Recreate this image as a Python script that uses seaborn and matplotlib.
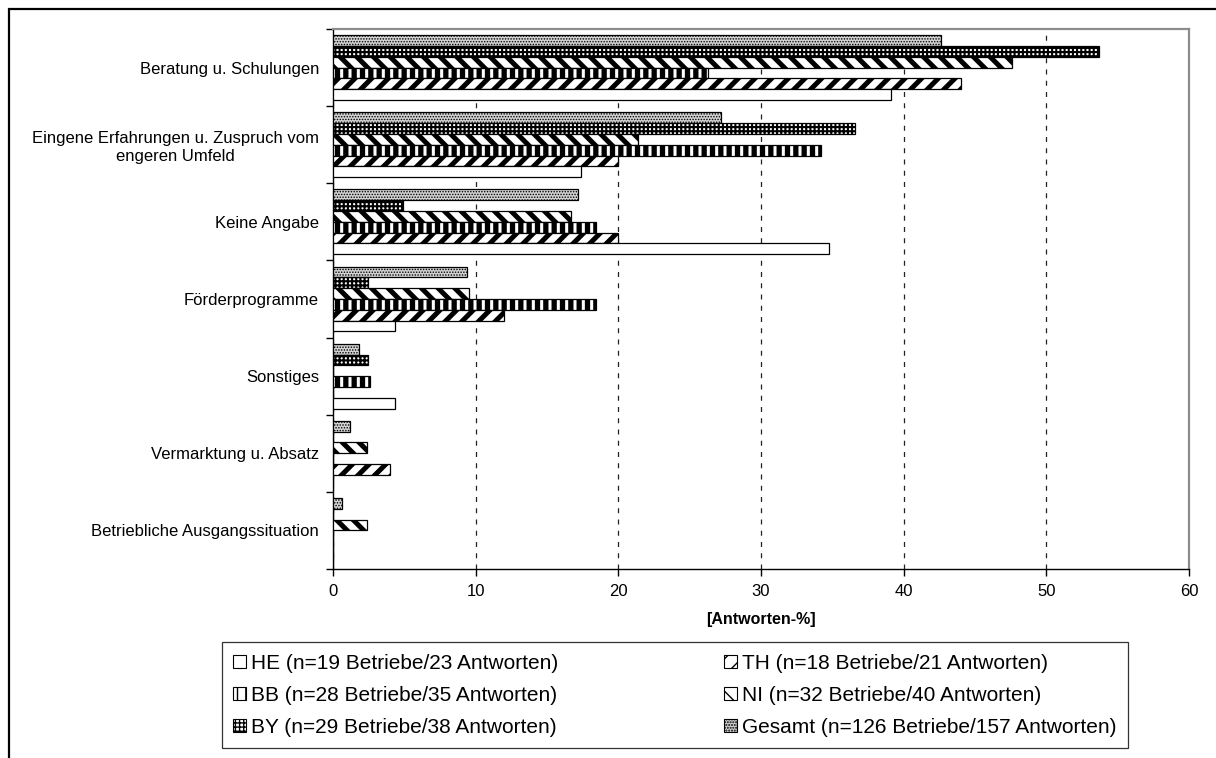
import numpy as np
import pandas as pd
import matplotlib
matplotlib.use("Agg")
import matplotlib.pyplot as plt
import seaborn as sns
from matplotlib.patches import Patch, Rectangle

# ---------------- data ----------------
categories = [
    "Beratung u. Schulungen",
    "Eingene Erfahrungen u. Zuspruch vom\nengeren Umfeld",
    "Keine Angabe",
    "Förderprogramme",
    "Sonstiges",
    "Vermarktung u. Absatz",
    "Betriebliche Ausgangssituation",
]
series_keys = ["HE", "TH", "BB", "NI", "BY", "Gesamt"]
series_labels = [
    "HE (n=19 Betriebe/23 Antworten)",
    "TH (n=18 Betriebe/21 Antworten)",
    "BB (n=28 Betriebe/35 Antworten)",
    "NI (n=32 Betriebe/40 Antworten)",
    "BY (n=29 Betriebe/38 Antworten)",
    "Gesamt (n=126 Betriebe/157 Antworten)",
]
he = [39.1, 17.4, 34.8, 4.35, 4.35, 0.0, 0.0]
th = [44.0, 20.0, 20.0, 12.0, 0.0, 4.0, 0.0]
bb = [26.3, 34.2, 18.4, 18.4, 2.6, 0.0, 0.0]
ni = [47.6, 21.4, 16.7, 9.5, 0.0, 2.4, 2.4]
by = [53.7, 36.6, 4.9, 2.45, 2.45, 0.0, 0.0]
gesamt = [42.6, 27.2, 17.2, 9.4, 1.8, 1.2, 0.6]
x_ticks = [0, 10, 20, 30, 40, 50, 60]
x_label = "[Antworten-%]"

values = {"HE": he, "TH": th, "BB": bb, "NI": ni, "BY": by, "Gesamt": gesamt}

# ---------------- style ----------------
sns.set_theme(style="white")
plt.rcParams["font.family"] = ["Liberation Sans", "DejaVu Sans"]
plt.rcParams["hatch.linewidth"] = 1.0
for k in ["text.color", "axes.labelcolor", "xtick.color", "ytick.color"]:
    plt.rcParams[k] = "black"

styles = {
    "HE": dict(fc="white", hatch=None, hlw=1.0),
    "TH": dict(fc="white", hatch="//", hlw=3.6),
    "BB": dict(fc="white", hatch="||", hlw=3.8),
    "NI": dict(fc="white", hatch="\\\\", hlw=3.6),
    "BY": dict(fc="white", hatch="++++", hlw=1.5),
    "Gesamt": dict(fc="#d2d2d2", hatch="......", hlw=0.7),
}

rows = []
for k in series_keys:
    for c, v in zip(categories, values[k]):
        rows.append({"category": c, "series": k, "value": v})
df = pd.DataFrame(rows)

W, H = 1216, 758
fig = plt.figure(figsize=(W / 100, H / 100), dpi=100)
ax = fig.add_axes([333 / W, 1 - 569 / H, (1189 - 333) / W, (569 - 29) / H])

hue_order = ["Gesamt", "BY", "NI", "BB", "TH", "HE"]  # top to bottom inside each group
palette = {k: styles[k]["fc"] for k in series_keys}
sns.barplot(data=df, x="value", y="category", hue="series", order=categories,
            hue_order=hue_order, orient="h", width=0.84, palette=palette,
            saturation=1, legend=False, errorbar=None, ax=ax,
            linewidth=0.9, edgecolor="black", zorder=3)

for key, cont in zip(hue_order, ax.containers):
    st = styles[key]
    for p in cont:
        p.set_facecolor(st["fc"])
        p.set_edgecolor("black")
        if st["hatch"]:
            p.set_hatch(st["hatch"])
        if hasattr(p, "set_hatch_linewidth"):
            p.set_hatch_linewidth(st["hlw"])

# axes
ax.set_xlim(0, 60)
ax.set_ylim(len(categories) - 0.5, -0.5)
ax.set_xticks(x_ticks)
ax.set_xticklabels([str(t) for t in x_ticks], fontsize=12)
ax.set_yticks(np.arange(-0.5, len(categories), 1.0))
ax.set_yticklabels([])
ax.set_yticks(np.arange(len(categories)), minor=True)
ax.set_yticklabels(categories, minor=True, fontsize=12, multialignment="center")
ax.tick_params(axis="y", which="major", direction="out", length=5, width=1, color="black", left=True)
ax.tick_params(axis="y", which="minor", length=0, pad=10)
ax.tick_params(axis="x", which="major", direction="out", length=5, width=1, color="black", bottom=True, pad=6)
ax.set_xlabel(x_label, fontsize=11.5, fontweight="bold", labelpad=9)
ax.set_ylabel("")

ax.xaxis.grid(True, linestyle=(0, (4, 5)), color="#222222", linewidth=0.9, zorder=0)
ax.yaxis.grid(False)
ax.set_axisbelow(True)
for s in ["left", "bottom"]:
    ax.spines[s].set_color("black")
    ax.spines[s].set_linewidth(1.0)
for s in ["top", "right"]:
    ax.spines[s].set_color("#8c8c8c")
    ax.spines[s].set_linewidth(1.6)

# legend
handle_map = {}
for key in series_keys:
    st = styles[key]
    h = Patch(facecolor=st["fc"], edgecolor="black", hatch=st["hatch"], linewidth=0.8)
    if hasattr(h, "set_hatch_linewidth"):
        h.set_hatch_linewidth(min(st["hlw"], 2.5))
    handle_map[key] = h
order_leg = ["HE", "BB", "BY", "TH", "NI", "Gesamt"]
lab_map = dict(zip(series_keys, series_labels))
leg = fig.legend([handle_map[k] for k in order_leg], [lab_map[k] for k in order_leg],
                 ncol=2, loc="lower left",
                 bbox_to_anchor=(222 / W, 1 - 748 / H, (1128 - 222) / W, 0.01),
                 mode="expand", frameon=True, fancybox=False, edgecolor="black",
                 fontsize=15, handlelength=0.6, handleheight=0.6, handletextpad=0.25,
                 labelspacing=0.62, borderpad=0.55, borderaxespad=0.0)
leg.get_frame().set_linewidth(0.9)

# outer border of the figure
fig.add_artist(Rectangle((9 / W, -0.2), 1.3, 1 - 9 / H + 0.2, transform=fig.transFigure,
                         fill=False, edgecolor="black", linewidth=1.6))

fig.savefig("out.png", dpi=100)
